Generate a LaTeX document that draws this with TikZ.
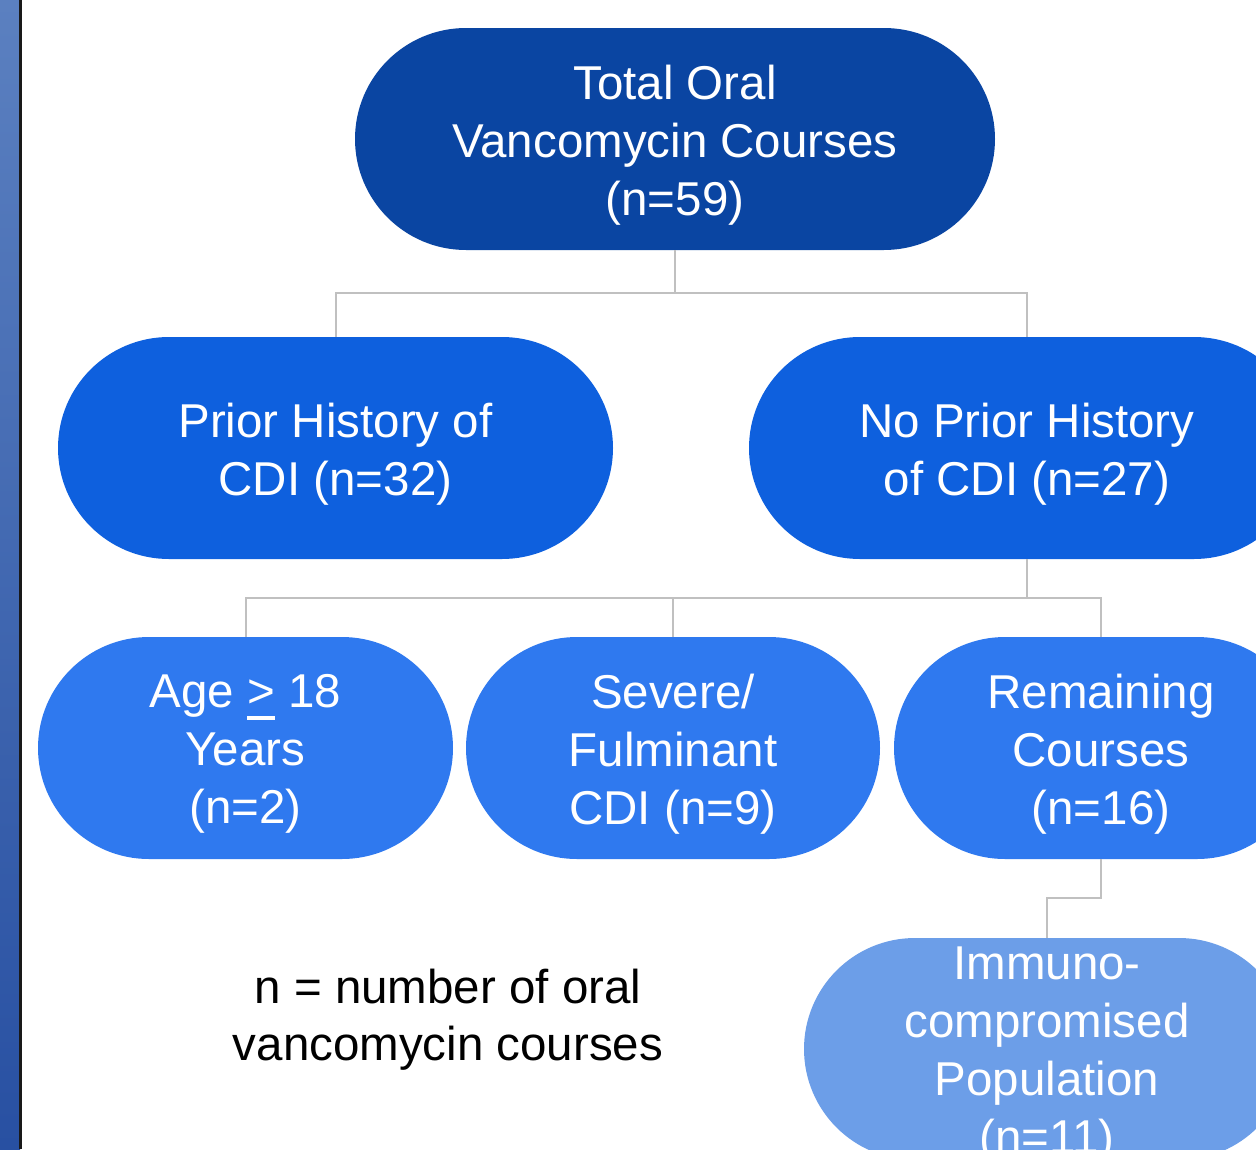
\documentclass[tikz,border=0pt]{standalone}
\usepackage{fontspec}
\setmainfont{Liberation Sans}
\newcommand{\ulgreater}{\setbox0\hbox{>}\rlap{\rule[-12pt]{\wd0}{4pt}}>}
\begin{document}
\begin{tikzpicture}[x=1pt,y=-1pt,
  txt/.style={text=white, align=center, inner sep=0pt, yshift=-6pt, font=\fontsize{47.5}{58}\selectfont},
  box/.style={rounded corners=111pt, minimum height=222pt, inner sep=0pt},
  lvlA/.style={box, fill=topblue},
  lvlB/.style={box, fill=midblue},
  lvlC/.style={box, fill=lowblue},
  lvlD/.style={box, fill=paleblue},
  link/.style={draw=linkgray, line width=2pt}
]
\definecolor{topblue}{HTML}{0A45A2}
\definecolor{midblue}{HTML}{0E60DE}
\definecolor{lowblue}{HTML}{2F79EF}
\definecolor{paleblue}{HTML}{6C9EE8}
\definecolor{linkgray}{HTML}{C0C0C0}
\definecolor{stripA}{HTML}{5B80C0}
\definecolor{stripB}{HTML}{2850A2}
\useasboundingbox (0,0) rectangle (1256,1149);
\clip (0,0) rectangle (1256,1149);
\shade[top color=stripA, bottom color=stripB] (0,0) rectangle (20,1149);
\draw[line width=2.5pt, color=black!90] (20.5,0) -- (20.5,1149);

\node[lvlA, minimum width=640pt, label={[txt]center:Total Oral\\Vancomycin Courses\\(n=59)}] (top) at (675,139) {};
\node[lvlB, minimum width=555pt, label={[txt]center:Prior History of\\CDI (n=32)}] (prior) at (335.5,448) {};
\node[lvlB, minimum width=556pt, label={[txt]center:No Prior History\\of CDI (n=27)}] (noprior) at (1027,448) {};
\node[lvlC, minimum width=415pt, label={[txt]center:Age \ulgreater{} 18\\Years\\(n=2)}] (age) at (245.5,748) {};
\node[lvlC, minimum width=414pt, label={[txt]center:Severe/\\Fulminant\\CDI (n=9)}] (severe) at (673,748) {};
\node[lvlC, minimum width=414pt, label={[txt]center:Remaining\\Courses\\(n=16)}] (remain) at (1101,748) {};
\node[lvlD, minimum width=486pt, label={[txt]center:Immuno-\\compromised\\Population\\(n=11)}] (immuno) at (1047,1049) {};
\node[align=center, font=\fontsize{47.5}{57}\selectfont, text=black] (legend) at (448,1020) {n = number of oral\\vancomycin courses};

\draw[link] (top.south) -- ++(0,43) -| (prior.north);
\draw[link] (top.south) -- ++(0,43) -| (noprior.north);
\draw[link] (noprior.south) -- ++(0,39) -| (age.north);
\draw[link] (noprior.south) -- ++(0,39) -| (severe.north);
\draw[link] (noprior.south) -- ++(0,39) -| (remain.north);
\draw[link] (remain.south) -- ++(0,39) -| (immuno.north);
\end{tikzpicture}
\end{document}
